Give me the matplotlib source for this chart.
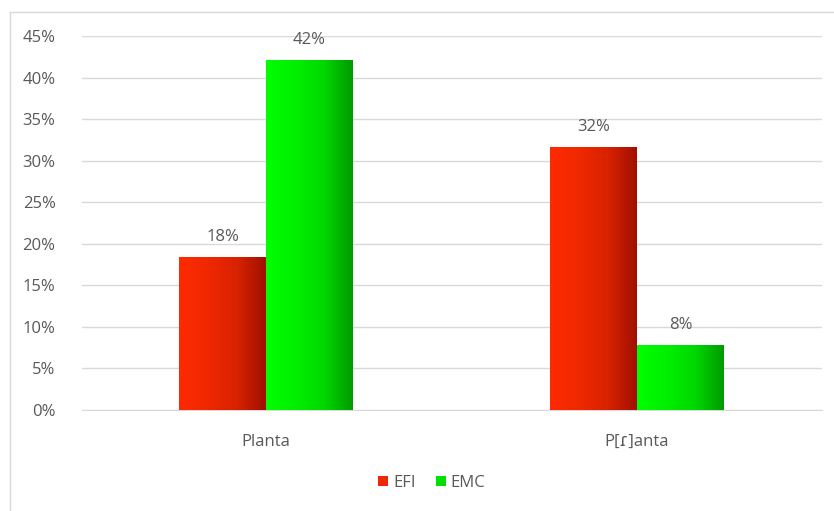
import matplotlib
matplotlib.use("Agg")
import matplotlib.pyplot as plt
import numpy as np
from matplotlib.colors import LinearSegmentedColormap
from matplotlib.lines import Line2D
from matplotlib.patches import Patch

categories = ["Planta", "P[ɾ]anta"]
series_names = ["EFI", "EMC"]
efi_values = [0.183, 0.316]
emc_values = [0.421, 0.078]
y_ticks = [0, 0.05, 0.10, 0.15, 0.20, 0.25, 0.30, 0.35, 0.40, 0.45]

text_color = "#595959"
grid_color = "#D9D9D9"
plt.rcParams["font.family"] = ["Open Sans", "DejaVu Sans"]

# left-to-right gradients for each series
gradients = {
    "EFI": LinearSegmentedColormap.from_list("efi", ["#FF2A00", "#F02800", "#D82200", "#A01000"]),
    "EMC": LinearSegmentedColormap.from_list("emc", ["#00FF00", "#00F000", "#00D800", "#009A00"]),
}
legend_colors = {"EFI": "#F02800", "EMC": "#00E000"}

fig = plt.figure(figsize=(8.34, 5.11), dpi=100)
ax = fig.add_axes([82 / 834, 1 - 410 / 511, (822 - 82) / 834, (410 - 36) / 511])

# chart frame (only left/top edges fall inside the image)
fig.add_artist(Line2D([10 / 834, 10 / 834], [0, 1 - 12 / 511], transform=fig.transFigure,
                      color="#D9D9D9", linewidth=1))
fig.add_artist(Line2D([10 / 834, 1], [1 - 12 / 511, 1 - 12 / 511], transform=fig.transFigure,
                      color="#D9D9D9", linewidth=1))

width = 0.2345
x = np.arange(len(categories))
grad = np.linspace(0, 1, 256).reshape(1, -1)

for offset, name, values in [(-width / 2, "EFI", efi_values), (width / 2, "EMC", emc_values)]:
    for xi, v in zip(x, values):
        left = xi + offset - width / 2
        ax.imshow(grad, cmap=gradients[name], aspect="auto",
                  extent=(left, left + width, 0, v), zorder=3, interpolation="bilinear")
        ax.annotate(f"{v:.0%}", (xi + offset, v), xytext=(0, 9), textcoords="offset points",
                    ha="center", va="bottom", fontsize=12, color=text_color)

ax.set_xlim(-0.496, 1.499)
ax.set_ylim(0, 0.45)
ax.set_yticks(y_ticks)
ax.set_yticklabels([f"{t:.0%}" for t in y_ticks])
ax.set_xticks(x)
ax.set_xticklabels(categories)
ax.tick_params(axis="both", length=0, labelsize=12, labelcolor=text_color)
ax.tick_params(axis="y", pad=19)
ax.tick_params(axis="x", pad=17)
ax.grid(axis="y", color=grid_color, linewidth=1)
ax.set_axisbelow(True)
for side in ["top", "right", "left"]:
    ax.spines[side].set_visible(False)
ax.spines["bottom"].set_color(grid_color)

handles = [Patch(facecolor=legend_colors[n], edgecolor="none", label=n) for n in series_names]
fig.legend(handles=handles, loc="center", bbox_to_anchor=(432 / 834, 1 - 483 / 511), ncol=2,
           frameon=False, fontsize=12, labelcolor=text_color, handlelength=0.6, handleheight=0.6,
           handletextpad=0.3, columnspacing=1.2)

fig.savefig("out.png", dpi=100)
